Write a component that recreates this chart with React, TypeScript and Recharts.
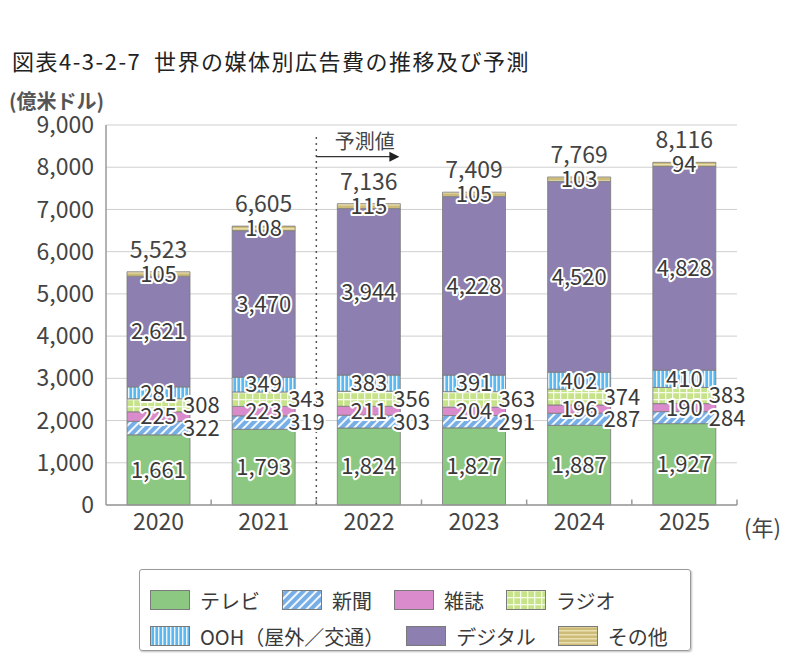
import {
  Bar,
  BarChart,
  CartesianGrid,
  LabelList,
  ReferenceDot,
  ReferenceLine,
  XAxis,
  YAxis,
} from "recharts"

const YEARS = ["2020", "2021", "2022", "2023", "2024", "2025"]
const TV = [1661, 1793, 1824, 1827, 1887, 1927]
const NEWSPAPER = [322, 319, 303, 291, 287, 284]
const MAGAZINE = [225, 223, 211, 204, 196, 190]
const RADIO = [308, 343, 356, 363, 374, 383]
const OOH = [281, 349, 383, 391, 402, 410]
const DIGITAL = [2621, 3470, 3944, 4228, 4520, 4828]
const OTHER = [105, 108, 115, 105, 103, 94]
const TOTALS = [5523, 6605, 7136, 7409, 7769, 8116]
const Y_TICKS = [0, 1000, 2000, 3000, 4000, 5000, 6000, 7000, 8000, 9000]
const BOUNDARIES = [0.5, 1.5, 2.5, 3.5, 4.5, 5.5]

const FONT = "'Noto Sans CJK JP', 'Noto Sans', sans-serif"
const NUM = new Intl.NumberFormat("en-US")

const chartData = YEARS.map((year, i) => ({
  idx: i,
  year,
  tv: TV[i],
  news: NEWSPAPER[i],
  mag: MAGAZINE[i],
  radio: RADIO[i],
  ooh: OOH[i],
  digital: DIGITAL[i],
  other: OTHER[i],
  total: TOTALS[i],
}))

type LabelMode = "center" | "right" | "top"

const SERIES: { key: string; name: string; fill: string; label: LabelMode }[] = [
  { key: "tv", name: "テレビ", fill: "#8DC882", label: "center" },
  { key: "news", name: "新聞", fill: "url(#pNews)", label: "right" },
  { key: "mag", name: "雑誌", fill: "#D98BCB", label: "center" },
  { key: "radio", name: "ラジオ", fill: "url(#pRadio)", label: "right" },
  { key: "ooh", name: "OOH（屋外／交通）", fill: "url(#pOoh)", label: "center" },
  { key: "digital", name: "デジタル", fill: "#8D80B0", label: "center" },
  { key: "other", name: "その他", fill: "url(#pOther)", label: "center" },
]

const LEGEND_ROWS = [
  ["tv", "news", "mag", "radio"],
  ["ooh", "digital", "other"],
]

function box(props: any) {
  const vb = props.viewBox ?? {}
  return {
    x: Number(props.x ?? vb.x),
    y: Number(props.y ?? vb.y),
    width: Number(props.width ?? vb.width),
    height: Number(props.height ?? vb.height),
  }
}

function makeLabel(mode: LabelMode) {
  return (props: any) => {
    const { x, y, width, height } = box(props)
    const value = Number(props.value)
    if (!Number.isFinite(value)) return null
    if (mode === "top") {
      return (
        <text x={x + width / 2} y={y - 14} textAnchor="middle" fontSize={23} fill="#444" fontFamily={FONT}>
          {NUM.format(value)}
        </text>
      )
    }
    const tx = mode === "right" ? x + width - 7 : x + width / 2
    return (
      <text
        x={tx}
        y={y + height / 2}
        dy="0.36em"
        textAnchor={mode === "right" ? "start" : "middle"}
        fontSize={22}
        fill="#3a3a3a"
        stroke="#ffffff"
        strokeWidth={4}
        strokeLinejoin="round"
        paintOrder="stroke"
        fontFamily={FONT}
      >
        {NUM.format(value)}
      </text>
    )
  }
}

function Patterns() {
  return (
    <defs>
      <pattern id="pNews" width="6" height="6" patternUnits="userSpaceOnUse" patternTransform="rotate(45)">
        <rect width="6" height="6" fill="#78AEE6" />
        <rect width="2" height="6" fill="#F2F8FF" />
      </pattern>
      <pattern id="pRadio" width="7" height="7" patternUnits="userSpaceOnUse">
        <rect width="7" height="7" fill="#C6E389" />
        <rect width="1.3" height="7" fill="#F5FBE8" />
        <rect width="7" height="1.3" fill="#F5FBE8" />
      </pattern>
      <pattern id="pOoh" width="4" height="4" patternUnits="userSpaceOnUse">
        <rect width="4" height="4" fill="#5CB9F0" />
        <rect width="1.4" height="4" fill="#EAF6FF" />
      </pattern>
      <pattern id="pOther" width="4" height="4" patternUnits="userSpaceOnUse">
        <rect width="4" height="4" fill="#CDBB79" />
        <rect width="4" height="1.5" fill="#EADFAE" />
      </pattern>
    </defs>
  )
}

function LegendSwatch({ fill }: { fill: string }) {
  return (
    <svg width={40} height={20} style={{ display: "block" }}>
      <rect x={0.5} y={0.5} width={39} height={19} fill={fill} stroke="#7a7a7a" strokeWidth={1} />
    </svg>
  )
}

function LegendBox() {
  return (
    <div
      style={{
        position: "absolute",
        left: 139,
        top: 569,
        width: 552,
        height: 82,
        border: "1.5px solid #9a9a9a",
        borderRadius: 3,
        boxShadow: "1px 1px 2px rgba(0,0,0,0.25)",
        boxSizing: "border-box",
        padding: "12px 0 0 10px",
        fontFamily: FONT,
        fontSize: 20,
        color: "#3a3a3a",
      }}
    >
      {LEGEND_ROWS.map((row, r) => (
        <div key={r} style={{ display: "flex", alignItems: "center", height: 36 }}>
          {row.map((key) => {
            const s = SERIES.find((item) => item.key === key)!
            return (
              <div key={key} style={{ display: "flex", alignItems: "center", marginRight: 22 }}>
                <LegendSwatch fill={s.fill} />
                <span style={{ marginLeft: 10, whiteSpace: "nowrap" }}>{s.name}</span>
              </div>
            )
          })}
        </div>
      ))}
    </div>
  )
}

export default function App() {
  return (
    <div style={{ position: "absolute", left: 0, top: 0, width: 800, height: 665, background: "#fff", fontFamily: FONT }}>
      <div
        style={{
          position: "absolute",
          left: 12,
          top: 44,
          fontSize: 22,
          letterSpacing: 1.5,
          color: "#222",
          whiteSpace: "nowrap",
        }}
      >
        図表4-3-2-7&nbsp;&nbsp;世界の媒体別広告費の推移及び予測
      </div>
      <div style={{ position: "absolute", left: 9, top: 86, fontSize: 20, fontWeight: 700, color: "#555" }}>
        (億米ドル)
      </div>
      <div style={{ position: "absolute", left: 744, top: 510, fontSize: 22, color: "#444", whiteSpace: "nowrap" }}>
        (年)
      </div>

      <div style={{ position: "absolute", left: 0, top: 0 }}>
        <BarChart
          width={800}
          height={545}
          data={chartData}
          margin={{ top: 125, right: 63, left: 36, bottom: 10 }}
          barSize={63}
        >
          <Patterns />
          <CartesianGrid horizontal vertical={false} stroke="#cfcfcf" />
          <XAxis
            dataKey="idx"
            type="number"
            domain={[-0.5, 5.5]}
            ticks={[0, 1, 2, 3, 4, 5]}
            tickFormatter={(v) => YEARS[Number(v)] ?? ""}
            tickLine={false}
            tickSize={0}
            tickMargin={9}
            axisLine={{ stroke: "#9a9a9a", strokeWidth: 1.5 }}
            tick={{ fontSize: 23, fill: "#444", fontFamily: FONT }}
            height={30}
          />
          <YAxis
            type="number"
            domain={[0, 9000]}
            ticks={Y_TICKS}
            tickFormatter={(v) => NUM.format(Number(v))}
            tickLine={false}
            tickSize={0}
            tickMargin={12}
            axisLine={{ stroke: "#9a9a9a", strokeWidth: 1.5 }}
            tick={{ fontSize: 23, fill: "#444", fontFamily: FONT }}
            width={70}
          />
          {SERIES.map((s) => (
            <Bar
              key={s.key}
              dataKey={s.key}
              name={s.name}
              stackId="all"
              fill={s.fill}
              stroke="#7a7a7a"
              strokeWidth={0.8}
              isAnimationActive={false}
            >
              <LabelList dataKey={s.key} content={makeLabel(s.label)} />
              {s.key === "other" ? <LabelList dataKey="total" content={makeLabel("top")} /> : null}
            </Bar>
          ))}
          {BOUNDARIES.map((b) => (
            <ReferenceLine
              key={b}
              segment={[
                { x: b, y: 0 },
                { x: b, y: 130 },
              ]}
              stroke="#9a9a9a"
              strokeWidth={1.5}
            />
          ))}
          <ReferenceLine
            segment={[
              { x: 1.5, y: 0 },
              { x: 1.5, y: 8800 },
            ]}
            stroke="#555"
            strokeWidth={1.5}
            strokeDasharray="2 4"
          />
          <ReferenceLine
            segment={[
              { x: 1.5, y: 8250 },
              { x: 2.22, y: 8250 },
            ]}
            stroke="#333"
            strokeWidth={1.2}
          />
          <ReferenceDot
            x={2.28}
            y={8250}
            r={0}
            shape={(p: any) => (
              <polygon
                points={`${p.cx - 9},${p.cy - 5} ${p.cx + 1},${p.cy} ${p.cx - 9},${p.cy + 5}`}
                fill="#222"
              />
            )}
          />
          <ReferenceDot
            x={1.96}
            y={8600}
            r={0}
            shape={(p: any) => (
              <text x={p.cx} y={p.cy} dy="0.36em" textAnchor="middle" fontSize={20} fill="#444" fontFamily={FONT}>
                予測値
              </text>
            )}
          />
        </BarChart>
      </div>

      <LegendBox />
    </div>
  )
}
